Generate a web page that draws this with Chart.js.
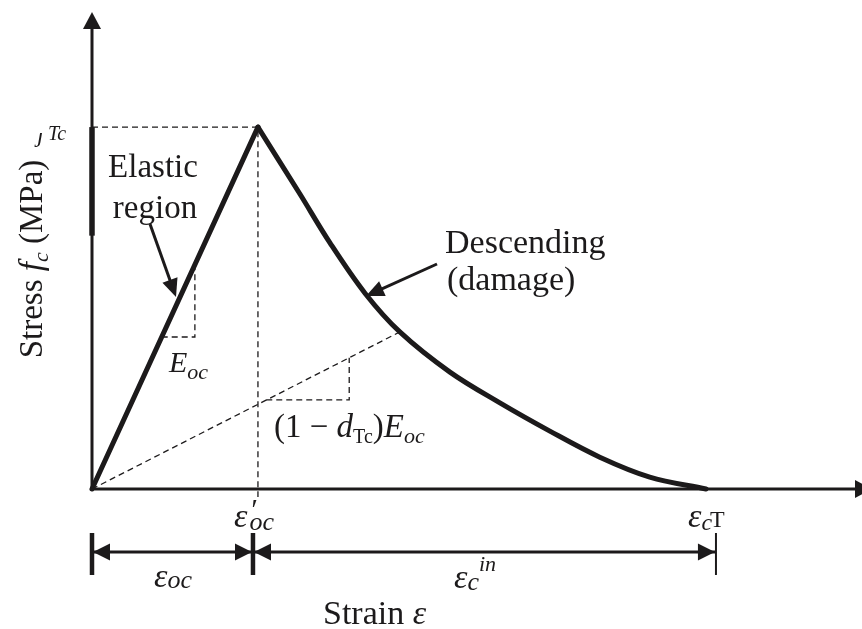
<!DOCTYPE html>
<html>
<head>
<meta charset="utf-8">
<script src="https://cdn.jsdelivr.net/npm/chart.js@4.4.1/dist/chart.umd.min.js"></script>
<style>
  body { margin: 0; background: #fff; }
  #wrap { width: 862px; height: 629px; position: relative; }
</style>
</head>
<body>
<div id="wrap"><canvas id="stressStrain"></canvas></div>
<script>
// stress-strain curve for concrete in tension (normalised units: peak at 1,1)
var elasticStrain = [0, 1.0];
var elasticStress = [0, 1.0];
var descStrain = [1.0, 1.253, 1.434, 1.645, 1.855, 2.157, 2.458, 2.759, 3.060, 3.361, 3.70];
var descStress = [1.0, 0.815, 0.680, 0.541, 0.434, 0.323, 0.238, 0.160, 0.088, 0.033, 0.0];
// secant (damaged) modulus line and the two slope triangles
var secantStrain = [0, 1.855];
var secantStress = [0, 0.434];
var peakGuideStrain = [0, 1.0, 1.0];
var peakGuideStress = [1.0, 1.0, -0.022];
var elasticTriStrain = [0.42, 0.62, 0.62];
var elasticTriStress = [0.42, 0.42, 0.615];
var secantTriStrain = [1.05, 1.55, 1.55];
var secantTriStress = [0.246, 0.246, 0.363];
// dimension line below the axis: eps_oc and eps_c^in spans
var dimStrain = [0, 0.97, 3.76];

var INK = '#1c1a1b';
var SERIF = '"Liberation Serif", "DejaVu Serif", serif';

function pts(xs, ys) {
  return xs.map(function (x, i) { return { x: x, y: ys[i] }; });
}

function lineSet(xs, ys, width, dash, opts) {
  var ds = {
    data: pts(xs, ys),
    borderColor: INK,
    borderWidth: width,
    borderDash: dash || [],
    pointRadius: 0,
    fill: false,
    tension: 0,
    clip: false
  };
  return Object.assign(ds, opts || {});
}

// draw a sequence of text runs with different fonts on one baseline
function drawRuns(ctx, x, y, runs) {
  var cx = x;
  runs.forEach(function (r) {
    ctx.font = r.font;
    cx += r.dx || 0;
    ctx.fillText(r.t, cx, y + (r.dy || 0));
    cx += (r.adv !== undefined) ? r.adv : ctx.measureText(r.t).width;
  });
}

function runsWidth(ctx, runs) {
  var w = 0;
  runs.forEach(function (r) {
    ctx.font = r.font;
    w += (r.dx || 0) + ((r.adv !== undefined) ? r.adv : ctx.measureText(r.t).width);
  });
  return w;
}

function arrowHead(ctx, tipX, tipY, angle, len, half) {
  ctx.save();
  ctx.translate(tipX, tipY);
  ctx.rotate(angle);
  ctx.beginPath();
  ctx.moveTo(0, 0);
  ctx.lineTo(-len, -half);
  ctx.lineTo(-len, half);
  ctx.closePath();
  ctx.fill();
  ctx.restore();
}

function arrow(ctx, x0, y0, x1, y1, width, len, half) {
  var a = Math.atan2(y1 - y0, x1 - x0);
  ctx.lineWidth = width;
  ctx.beginPath();
  ctx.moveTo(x0, y0);
  ctx.lineTo(x1 - Math.cos(a) * len * 0.8, y1 - Math.sin(a) * len * 0.8);
  ctx.stroke();
  arrowHead(ctx, x1, y1, a, len, half);
}

var axesPlugin = {
  id: 'axesPlugin',
  beforeDatasetsDraw: function (chart) {
    var ctx = chart.ctx;
    var xs = chart.scales.x, ys = chart.scales.y;
    var x0 = xs.getPixelForValue(0), y0 = ys.getPixelForValue(0);
    ctx.save();
    ctx.strokeStyle = INK;
    ctx.fillStyle = INK;
    ctx.lineCap = 'butt';

    // y axis with arrow
    ctx.lineWidth = 3;
    ctx.beginPath();
    ctx.moveTo(x0, y0 + 1.5);
    ctx.lineTo(x0, chart.chartArea.top + 14);
    ctx.stroke();
    arrowHead(ctx, x0, chart.chartArea.top, -Math.PI / 2, 17, 9);
    // heavier stretch of the axis next to the peak stress
    ctx.lineWidth = 5.5;
    ctx.beginPath();
    ctx.moveTo(x0, ys.getPixelForValue(1.0));
    ctx.lineTo(x0, ys.getPixelForValue(0.70));
    ctx.stroke();

    // x axis with arrow
    ctx.lineWidth = 3;
    ctx.beginPath();
    ctx.moveTo(x0 - 1.5, y0);
    ctx.lineTo(chart.chartArea.right - 5, y0);
    ctx.stroke();
    arrowHead(ctx, chart.chartArea.right + 10, y0, 0, 17, 9);

    // dimension line under the strain axis
    var dimY = ys.getPixelForValue(-0.174);
    var d = dimStrain.map(function (v) { return xs.getPixelForValue(v); });
    ctx.lineWidth = 3;
    ctx.beginPath();
    ctx.moveTo(d[0], dimY);
    ctx.lineTo(d[2], dimY);
    ctx.stroke();
    arrowHead(ctx, d[0] + 1, dimY, Math.PI, 17, 8.5);
    arrowHead(ctx, d[1] - 1, dimY, 0, 17, 8.5);
    arrowHead(ctx, d[1] + 1, dimY, Math.PI, 17, 8.5);
    arrowHead(ctx, d[2] - 1, dimY, 0, 17, 8.5);
    var tickW = [4.5, 4.5, 2];
    d.forEach(function (px, i) {
      ctx.lineWidth = tickW[i];
      ctx.beginPath();
      ctx.moveTo(px, dimY - 19);
      ctx.lineTo(px, dimY + 23);
      ctx.stroke();
    });
    ctx.restore();
  },
  afterDatasetsDraw: function (chart) {
    var ctx = chart.ctx;
    ctx.save();
    ctx.fillStyle = INK;
    ctx.strokeStyle = INK;
    ctx.textBaseline = 'alphabetic';

    var reg = '33px ' + SERIF;
    var ital = 'italic 33px ' + SERIF;

    // region labels
    ctx.font = reg;
    ctx.textAlign = 'center';
    ctx.fillText('Elastic', 153, 177);
    ctx.fillText('region', 155, 218);
    ctx.textAlign = 'left';
    ctx.font = '34px ' + SERIF;
    ctx.fillText('Descending', 445, 253);
    ctx.fillText('(damage)', 447, 290);

    // pointer arrows
    arrow(ctx, 150, 224, 176, 297, 3, 18, 8);
    arrow(ctx, 437, 264, 366, 296, 3, 18, 8);

    // slope labels
    drawRuns(ctx, 169, 372, [
      { t: 'E', font: 'italic 30px ' + SERIF },
      { t: 'oc', font: 'italic 22px ' + SERIF, dy: 7 }
    ]);
    drawRuns(ctx, 274, 437, [
      { t: '(1 \u2212 ', font: reg },
      { t: 'd', font: ital },
      { t: 'Tc', font: '20px ' + SERIF, dy: 6 },
      { t: ')', font: reg },
      { t: 'E', font: ital },
      { t: 'oc', font: 'italic 22px ' + SERIF, dy: 6 }
    ]);

    // strain markers
    drawRuns(ctx, 234, 527, [
      { t: '\u03b5', font: 'italic 34px ' + SERIF },
      { t: '\u2032', font: 'italic 30px ' + SERIF, dx: 2, dy: -8, adv: 0 },
      { t: 'oc', font: 'italic 26px ' + SERIF, dy: 3 }
    ]);
    drawRuns(ctx, 688, 527, [
      { t: '\u03b5', font: 'italic 34px ' + SERIF },
      { t: 'c', font: 'italic 24px ' + SERIF, dy: 3 },
      { t: 'T', font: '24px ' + SERIF, dx: -2 }
    ]);
    drawRuns(ctx, 154, 587, [
      { t: '\u03b5', font: 'italic 34px ' + SERIF },
      { t: 'oc', font: 'italic 26px ' + SERIF, dy: 1 }
    ]);
    drawRuns(ctx, 454, 588, [
      { t: '\u03b5', font: 'italic 34px ' + SERIF },
      { t: 'c', font: 'italic 26px ' + SERIF, dy: 2 },
      { t: 'in', font: 'italic 22px ' + SERIF, dy: -17 }
    ]);

    // axis titles
    drawRuns(ctx, 323, 624, [
      { t: 'Strain ', font: '34px ' + SERIF },
      { t: '\u03b5', font: 'italic 34px ' + SERIF }
    ]);

    var yTitle = [
      { t: 'Stress ', font: reg },
      { t: 'f', font: ital },
      { t: 'c', font: 'italic 22px ' + SERIF, dy: 6 },
      { t: ' (MPa)', font: reg }
    ];
    ctx.save();
    ctx.translate(42, 259);
    ctx.rotate(-Math.PI / 2);
    drawRuns(ctx, -runsWidth(ctx, yTitle) / 2, 0, yTitle);
    ctx.restore();

    // peak stress tag, partly hidden behind the title box
    ctx.save();
    ctx.beginPath();
    ctx.rect(28, 133, 60, 30);
    ctx.clip();
    ctx.font = 'italic 24px ' + SERIF;
    ctx.fillText('\u0237', 37, 142);
    ctx.restore();
    ctx.font = 'italic 20px ' + SERIF;
    ctx.fillText('Tc', 48, 140);

    ctx.restore();
  }
};

var ctx = document.getElementById('stressStrain').getContext('2d');
var chart = new Chart(ctx, {
  type: 'line',
  data: {
    datasets: [
      lineSet(elasticStrain, elasticStress, 5, null, { borderCapStyle: 'round', borderJoinStyle: 'round' }),
      lineSet(descStrain, descStress, 5, null, { tension: 0.35, borderCapStyle: 'round' }),
      lineSet(secantStrain, secantStress, 1.3, [6, 4]),
      lineSet(peakGuideStrain, peakGuideStress, 1.3, [6, 4]),
      lineSet(elasticTriStrain, elasticTriStress, 1.3, [6, 4]),
      lineSet(secantTriStrain, secantTriStress, 1.3, [6, 4])
    ]
  },
  options: {
    responsive: true,
    maintainAspectRatio: false,
    animation: false,
    events: [],
    layout: { padding: { left: 92, top: 12, right: 0, bottom: 140 } },
    scales: {
      x: { type: 'linear', min: 0, max: 4.64, display: false },
      y: { type: 'linear', min: 0, max: 1.318, display: false }
    },
    plugins: {
      legend: { display: false },
      tooltip: { enabled: false }
    }
  },
  plugins: [axesPlugin]
});
</script>
</body>
</html>
